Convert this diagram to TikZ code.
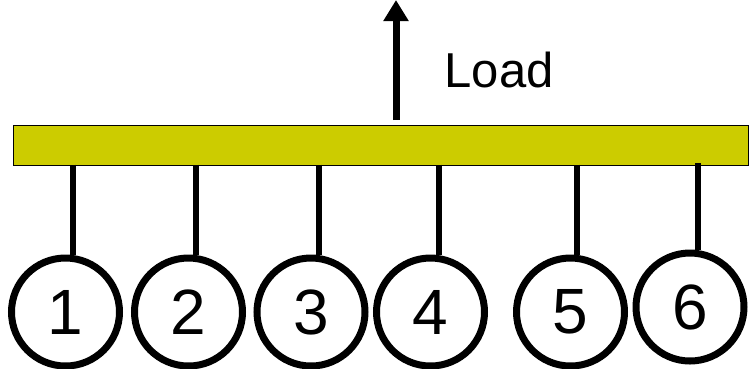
\documentclass[tikz,border=0pt]{standalone}
\usepackage{fontspec}
\setmainfont{Liberation Sans}
\usetikzlibrary{arrows.meta}
\definecolor{beamfill}{RGB}{204,204,0}
\tikzset{
  beam/.style={draw=black, line width=1.3pt, fill=beamfill, inner sep=0pt,
               minimum width=735pt, minimum height=40pt, anchor=north west},
  mass/.style={circle, draw=black, line width=7pt, fill=white, inner sep=0pt,
               minimum size=108pt, font=\fontsize{64}{64}\selectfont},
  rod/.style={line width=6.5pt, black},
  force/.style={line width=7pt, black, -{Triangle[width=24pt,length=21pt]}},
  caption/.style={font=\fontsize{49}{49}\selectfont, inner sep=0pt, anchor=base west}
}
\begin{document}
\begin{tikzpicture}[x=1pt, y=-1pt]
  \useasboundingbox (0,0) rectangle (750,368);

  % the loaded beam
  \node[beam] (bar) at (12.6,124.6) {};

  % masses hanging below the beam
  \node[mass] (c1) at (65.5,312) {1};
  \node[mass] (c2) at (188.5,312) {2};
  \node[mass] (c3) at (311,312) {3};
  \node[mass] (c4) at (430.5,312) {4};
  \node[mass] (c5) at (570.5,312) {5};
  \node[mass] (c6) at (690,307) {6};

  % attachment points on the underside of the beam
  \coordinate (t1) at (73,164.5);
  \coordinate (t2) at (196,164.5);
  \coordinate (t3) at (319,164.5);
  \coordinate (t4) at (439,164.5);
  \coordinate (t5) at (577,164.5);
  \coordinate (t6) at (698,163);

  % rods joining beam and masses
  \foreach \i in {1,...,6}
    \draw[rod] (t\i) -- (t\i |- c\i.north);

  % applied load
  \coordinate (loadbase) at (396,120);
  \coordinate (loadtip) at (396,0);
  \draw[force] (loadbase) -- (loadtip);
  \node[caption] (load) at (444.5,87) {Load};
\end{tikzpicture}
\end{document}
